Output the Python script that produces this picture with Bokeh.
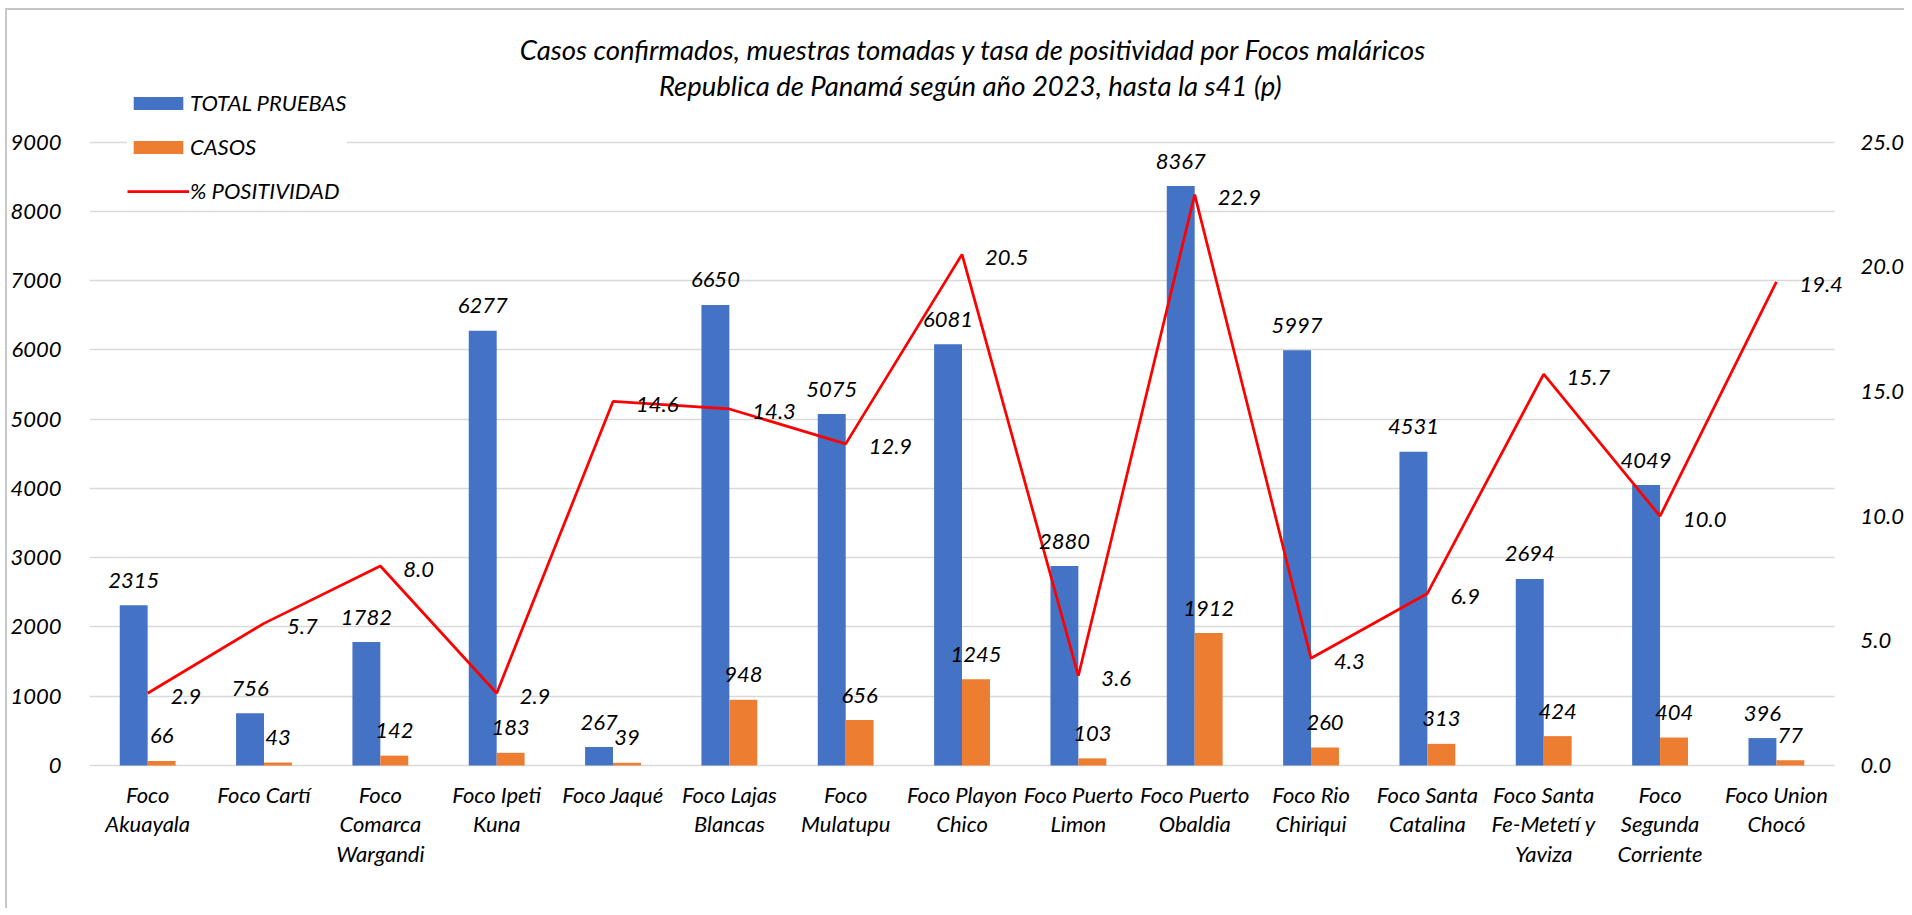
from bokeh.plotting import figure
from bokeh.models import (ColumnDataSource, Range1d, LinearAxis, FixedTicker,
                          NumeralTickFormatter, Legend, LegendItem, Label)
from bokeh.transform import dodge
from bokeh.core.properties import value
from bokeh.embed import file_html
from bokeh.resources import INLINE

# ---------------- data ----------------
categories = ["Foco Akuayala", "Foco Cartí", "Foco Comarca Wargandi", "Foco Ipeti Kuna",
              "Foco Jaqué", "Foco Lajas Blancas", "Foco Mulatupu", "Foco Playon Chico",
              "Foco Puerto Limon", "Foco Puerto Obaldia", "Foco Rio Chiriqui",
              "Foco Santa Catalina", "Foco Santa Fe-Metetí y Yaviza",
              "Foco Segunda Corriente", "Foco Union Chocó"]
category_labels = ["Foco\nAkuayala", "Foco Cartí", "Foco\nComarca\nWargandi", "Foco Ipeti\nKuna",
                   "Foco Jaqué", "Foco Lajas\nBlancas", "Foco\nMulatupu", "Foco Playon\nChico",
                   "Foco Puerto\nLimon", "Foco Puerto\nObaldia", "Foco Rio\nChiriqui",
                   "Foco Santa\nCatalina", "Foco Santa\nFe-Metetí y\nYaviza",
                   "Foco\nSegunda\nCorriente", "Foco Union\nChocó"]
total_pruebas = [2315, 756, 1782, 6277, 267, 6650, 5075, 6081, 2880, 8367, 5997, 4531, 2694, 4049, 396]
casos = [66, 43, 142, 183, 39, 948, 656, 1245, 103, 1912, 260, 313, 424, 404, 77]
positividad = [2.9, 5.7, 8.0, 2.9, 14.6, 14.3, 12.9, 20.5, 3.6, 22.9, 4.3, 6.9, 15.7, 10.0, 19.4]
left_ticks = [0, 1000, 2000, 3000, 4000, 5000, 6000, 7000, 8000, 9000]
right_ticks = [0, 5, 10, 15, 20, 25]
title_lines = ["Casos confirmados, muestras tomadas y tasa de positividad por Focos maláricos",
               "Republica de Panamá  según año 2023, hasta la s41 (p)"]

# ---------------- style / layout (pixels) ----------------
FONT = "Lato"
FS = "22px"
TITLE_FS = "27.5px"
BLUE = "#4472C4"
ORANGE = "#ED7D31"
RED = "#FF0000"
GRID = "#D9D9D9"
BORDER = "#C8C8C8"

W, H = 1899, 900
ORIGIN_X, ORIGIN_Y = 7, 10     # page position of the canvas (margin + 2px border)
FRAME_L, FRAME_R = 84, 1850
CAT_R = 1838                   # where the last category ends
FRAME_T, FRAME_B = ORIGIN_Y, ORIGIN_Y + H
ZERO_Y, TOP_Y = 765, 141.7
LEFT_MAX, RIGHT_MAX = 9000, 25

ppu = (ZERO_Y - TOP_Y) / LEFT_MAX
y_lo = -(FRAME_B - ZERO_Y) / ppu
y_hi = (ZERO_Y - FRAME_T) / ppu
n = len(categories)
x_hi = n * (FRAME_R - FRAME_L) / (CAT_R - FRAME_L)

xs = [i + 0.5 for i in range(n)]
src = ColumnDataSource(dict(
    x=xs, cat=categories, lab=category_labels,
    tests=total_pruebas, cases=casos, pct=positividad,
    zero=[0] * n,
    tests_txt=[str(v) for v in total_pruebas],
    cases_txt=[str(v) for v in casos],
    pct_txt=[f"{v:.1f}" for v in positividad],
))

p = figure(x_range=Range1d(0, x_hi), y_range=Range1d(y_lo, y_hi),
           width=W, height=H, output_backend="svg", toolbar_location=None,
           x_axis_location=None,
           min_border_left=FRAME_L - ORIGIN_X, min_border_right=ORIGIN_X + W - FRAME_R,
           min_border_top=0, min_border_bottom=0)
p.styles = {"margin-left": "5px", "margin-top": "8px",
            "border-top": f"2px solid {BORDER}", "border-left": f"2px solid {BORDER}"}
p.extra_y_ranges = {"pct": Range1d(y_lo * RIGHT_MAX / LEFT_MAX, y_hi * RIGHT_MAX / LEFT_MAX)}
p.outline_line_color = None
p.background_fill_color = "white"
p.border_fill_color = "white"

# grid
p.xgrid.grid_line_color = None
p.ygrid.grid_line_color = GRID
p.ygrid.grid_line_width = 1.5
p.ygrid.ticker = FixedTicker(ticks=left_ticks)
if "cross_bounds" in p.ygrid[0].properties():
    p.ygrid[0].cross_bounds = (0, n)

# left axis
ya = p.yaxis[0]
ya.ticker = FixedTicker(ticks=left_ticks)
ya.axis_line_color = None
ya.major_tick_line_color = None
ya.minor_tick_line_color = None
ya.major_label_standoff = 22
ya.major_label_text_font = FONT
ya.major_label_text_font_style = "italic"
ya.major_label_text_font_size = FS
ya.major_label_text_color = "black"

# right axis
ra = LinearAxis(y_range_name="pct", ticker=FixedTicker(ticks=right_ticks),
                formatter=NumeralTickFormatter(format="0.0"))
ra.axis_line_color = None
ra.major_tick_line_color = None
ra.minor_tick_line_color = None
ra.major_label_standoff = 8
ra.major_label_text_font = FONT
ra.major_label_text_font_style = "italic"
ra.major_label_text_font_size = FS
ra.major_label_text_color = "black"
p.add_layout(ra, "right")

# bars
r_tests = p.vbar(x=dodge("x", -0.12), top="tests", width=0.24,
                 source=src, fill_color=BLUE, line_color=None)
r_cases = p.vbar(x=dodge("x", 0.12), top="cases", width=0.24,
                 source=src, fill_color=ORANGE, line_color=None)
# line
r_pct = p.line(x="x", y="pct", source=src, y_range_name="pct",
               line_color=RED, line_width=2.75)

# data labels
lab_kw = dict(text_font=value(FONT), text_font_style="italic", text_font_size=FS,
              text_color="black")
p.text(x=dodge("x", -0.12), y="tests", text="tests_txt", source=src,
       text_align="center", text_baseline="middle", y_offset=-25, **lab_kw)
p.text(x=dodge("x", 0.12), y="cases", text="cases_txt", source=src,
       text_align="center", text_baseline="middle", y_offset=-25, **lab_kw)
p.text(x="x", y="pct", text="pct_txt", source=src, y_range_name="pct",
       text_align="left", text_baseline="middle", x_offset=23, y_offset=3, **lab_kw)

# category labels (wrapped, below the zero line)
p.text(x="x", y="zero", text="lab", source=src, text_align="center", text_baseline="top",
       y_offset=15, text_line_height=1.1, **lab_kw)

# legend
legend = Legend(items=[LegendItem(label="TOTAL PRUEBAS", renderers=[r_tests]),
                       LegendItem(label="CASOS", renderers=[r_cases]),
                       LegendItem(label="% POSITIVIDAD", renderers=[r_pct])],
                location=(38, FRAME_B - 204), orientation="vertical",
                glyph_width=62, glyph_height=16, label_standoff=1,
                label_height=26, spacing=17, padding=30,
                label_text_font=FONT, label_text_font_style="italic",
                label_text_font_size=FS, label_text_color="black",
                background_fill_color="white", background_fill_alpha=1.0,
                border_line_color=None)
p.add_layout(legend, "center")

# title (two centred lines)
for txt, page_y in zip(title_lines, [49, 85]):
    p.add_layout(Label(x=968 - FRAME_L, y=FRAME_B - page_y, x_units="screen", y_units="screen",
                       text=txt, text_align="center", text_baseline="middle",
                       text_font=FONT, text_font_style="italic", text_font_size=TITLE_FS,
                       text_color="black"))

open("out.html", "w").write(file_html(p, INLINE))
